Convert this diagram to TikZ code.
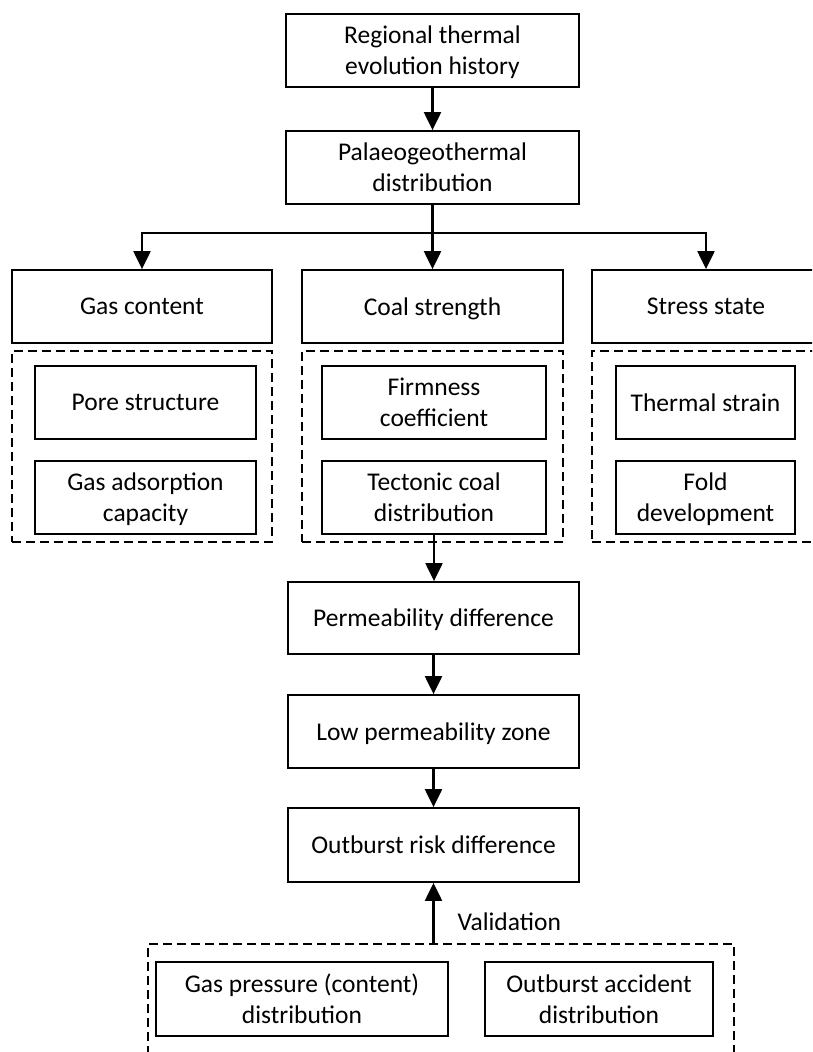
\documentclass[tikz,border=0pt]{standalone}
\usepackage{fontspec}
\setmainfont{Carlito}
\usetikzlibrary{arrows.meta}

\tikzset{
  box/.style={draw, line width=1.8pt, align=center, inner sep=0pt,
    minimum height=73pt, text depth=0pt},
  grp/.style={draw, line width=1.8pt, dash pattern=on 9pt off 5pt,
    inner sep=0pt},
  arr/.style={line width=2.2pt, -{Triangle[length=18pt,width=17pt]}},
}

\begin{document}
\begin{tikzpicture}[x=1pt, y=-1pt, font=\fontsize{25.5}{31}\selectfont]
\clip (0,0) rectangle (812,1052);

% ===== Thermal history chain =====
\node[box, minimum width=293pt] (region) at (432.5,50.5)
  {Regional thermal\\evolution history};
\node[box, minimum width=293pt] (palaeo) at (432.5,167.5)
  {Palaeogeothermal\\distribution};
\draw[arr] (region) -- (palaeo);

% ===== Three controlling factors =====
\node[box, minimum width=260pt] (gas)    at (142,306.5)   {Gas content};
\node[box, minimum width=261pt] (coal)   at (432.5,306.5) {Coal strength};
\node[box, minimum width=228pt] (stress) at (706,306.5)   {Stress state};

\draw[line width=2.2pt] (palaeo.south) -- ++(0,28) coordinate (split);
\draw[arr] (split) -| (gas);
\draw[arr] (split) -- (coal);
\draw[arr] (split) -| (stress);

% ----- Dashed groups of sub-factors -----
\node[grp, minimum width=260pt, minimum height=191pt] (gasgrp)    at (142,446.5)   {};
\node[grp, minimum width=261pt, minimum height=191pt] (coalgrp)   at (432.5,446.5) {};
\node[grp, minimum width=228pt, minimum height=191pt] (stressgrp) at (706,446.5)   {};

\node[box, minimum width=221pt] (pore)   at (145.5,402.5) {Pore structure};
\node[box, minimum width=221pt] (adsorb) at (145.5,497.5) {Gas adsorption\\capacity};
\node[box, minimum width=224pt] (firm)   at (434,402.5)   {Firmness\\coefficient};
\node[box, minimum width=224pt] (tect)   at (434,497.5)   {Tectonic coal\\distribution};
\node[box, minimum width=179pt] (strain) at (705.5,402.5) {Thermal strain};
\node[box, minimum width=179pt] (fold)   at (705.5,497.5) {Fold\\development};

% ===== Permeability and risk chain =====
\node[box, minimum width=291pt, minimum height=72pt] (perm) at (433.5,618)   {Permeability difference};
\node[box, minimum width=291pt] (lowzone) at (433.5,731.5) {Low permeability zone};
\node[box, minimum width=291pt, minimum height=74pt] (risk) at (433.5,845)   {Outburst risk difference};

\draw[arr] (tect.south) -- (tect.south |- perm.north);
\draw[arr] (perm) -- (lowzone);
\draw[arr] (lowzone) -- (risk);

% ----- Validation data -----
\node[grp, minimum width=586pt, minimum height=140pt] (valgrp) at (441,1014) {};
\node[box, minimum width=292pt, minimum height=74pt] (pressure) at (302,999)
  {Gas pressure (content)\\distribution};
\node[box, minimum width=228pt, minimum height=74pt] (accident) at (599,999)
  {Outburst accident\\distribution};

\draw[arr] (valgrp.north -| risk) -- (risk);
\node[anchor=west] (vlabel) at (454,922) {Validation};

\end{tikzpicture}
\end{document}
